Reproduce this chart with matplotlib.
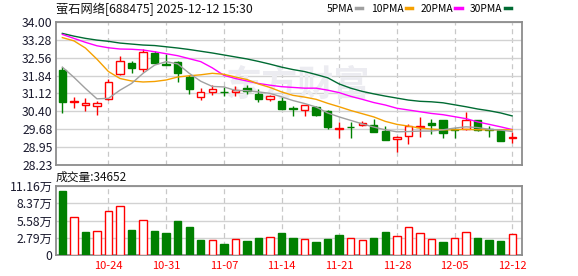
import matplotlib
matplotlib.use('Agg')
import matplotlib.pyplot as plt
from matplotlib.lines import Line2D

plt.rcParams['font.family'] = ['Noto Sans CJK SC', 'DejaVu Sans']
plt.rcParams['axes.unicode_minus'] = False

# K线数据 (2025-10-20 ~ 2025-12-12)
opens = [32.06, 30.79, 30.65, 30.61, 30.89, 31.89, 32.34, 32.09, 32.76, 32.32,
         32.39, 31.78, 30.97, 31.17, 31.19, 31.18, 31.34, 31.10, 30.91, 30.80,
         30.54, 30.46, 30.57, 30.41, 29.70, 29.78, 29.85, 29.85, 29.62, 29.29,
         29.39, 29.77, 29.94, 30.06, 29.67, 29.67, 30.06, 29.70, 29.66, 29.33]
closes = [30.76, 30.80, 30.74, 30.73, 31.57, 32.41, 32.16, 32.78, 32.36, 32.28,
          31.96, 31.29, 31.18, 31.30, 31.18, 31.27, 31.22, 30.91, 31.01, 30.50,
          30.49, 30.64, 30.23, 29.78, 29.71, 29.77, 29.94, 29.58, 29.23, 29.34,
          29.79, 29.80, 29.83, 29.51, 29.66, 30.06, 29.66, 29.65, 29.19, 29.34]
highs = [32.17, 30.97, 30.94, 30.80, 31.70, 32.62, 32.42, 32.93, 32.83, 32.70,
         32.44, 31.85, 31.33, 31.45, 31.37, 31.42, 31.46, 31.30, 31.04, 30.97,
         30.63, 30.64, 30.62, 30.44, 29.97, 29.96, 30.02, 30.08, 29.82, 29.39,
         29.89, 30.18, 30.07, 30.06, 29.71, 30.38, 30.06, 29.82, 29.70, 29.58]
lows = [30.32, 30.53, 30.40, 30.23, 30.84, 31.85, 31.96, 32.00, 32.33, 32.28,
        31.57, 31.08, 30.84, 31.06, 31.00, 31.03, 31.10, 30.76, 30.82, 30.49,
        30.20, 30.19, 30.19, 29.70, 29.31, 29.31, 29.79, 29.55, 29.23, 28.75,
        29.07, 29.37, 29.47, 29.31, 29.31, 29.66, 29.61, 29.37, 29.19, 29.11]

ma5 = [32.18, 31.77, 31.32, 30.90, 30.92, 31.25, 31.52, 31.93, 32.26, 32.40,
       32.31, 31.93, 31.61, 31.40, 31.38, 31.24, 31.23, 31.18, 31.12, 30.98,
       30.83, 30.71, 30.57, 30.33, 30.17, 30.03, 29.89, 29.76, 29.65, 29.57,
       29.58, 29.60, 29.60, 29.65, 29.72, 29.77, 29.74, 29.67, 29.64, 29.58]
ma10 = [33.37, 33.24, 32.95, 32.50, 32.00, 31.72, 31.62, 31.58, 31.60, 31.66,
        31.78, 31.83, 31.87, 31.93, 31.89, 31.78, 31.68, 31.50, 31.36, 31.18,
        31.04, 30.97, 30.88, 30.72, 30.58, 30.43, 30.30, 30.17, 29.99, 29.87,
        29.80, 29.72, 29.68, 29.65, 29.65, 29.67, 29.65, 29.65, 29.65, 29.65]
ma20 = [33.50, 33.34, 33.18, 33.04, 32.96, 32.91, 32.90, 32.87, 32.80, 32.72,
        32.64, 32.52, 32.40, 32.15, 31.85, 31.72, 31.62, 31.52, 31.45, 31.39,
        31.36, 31.33, 31.33, 31.25, 31.15, 31.00, 30.88, 30.75, 30.65, 30.52,
        30.45, 30.38, 30.31, 30.26, 30.18, 30.10, 29.97, 29.87, 29.77, 29.66]
ma30 = [33.54, 33.43, 33.34, 33.27, 33.22, 33.15, 33.11, 33.07, 33.05, 33.00,
        32.95, 32.89, 32.82, 32.75, 32.67, 32.59, 32.51, 32.41, 32.30, 32.18,
        32.08, 32.00, 31.88, 31.75, 31.50, 31.33, 31.20, 31.10, 31.01, 30.93,
        30.85, 30.80, 30.78, 30.74, 30.66, 30.58, 30.49, 30.42, 30.33, 30.21]

# 成交量 (万)
volume = [10.40, 6.09, 3.72, 3.88, 7.12, 7.92, 4.10, 5.66, 3.94, 3.56,
          5.55, 4.53, 2.48, 2.43, 1.83, 2.59, 2.32, 2.80, 2.91, 3.61,
          2.80, 2.59, 2.16, 2.62, 3.23, 2.72, 2.40, 2.75, 3.72, 3.07,
          4.47, 3.50, 2.56, 2.10, 2.72, 3.67, 2.75, 2.48, 2.32, 3.47]
vol_up = [0, 1, 0, 1, 1, 1, 0, 1, 0, 0, 0, 0, 0, 1, 0, 1, 0, 0, 1, 0,
          0, 1, 0, 0, 0, 1, 1, 0, 0, 1, 1, 1, 1, 0, 1, 1, 0, 0, 0, 1]

date_idx = [4, 9, 14, 19, 24, 29, 34, 39]
date_labels = ['10-24', '10-31', '11-07', '11-14', '11-21', '11-28', '12-05', '12-12']
price_ticks = [28.23, 28.95, 29.68, 30.40, 31.12, 31.84, 32.56, 33.28, 34.00]
vol_ticks = [0, 2.79, 5.58, 8.37, 11.16]
vol_tick_labels = ['0', '2.79万', '5.58万', '8.37万', '11.16万']

RED = '#ff0000'
GREEN = '#008000'
FRAME = '#8c8c8c'
GRID = '#d2d2d2'

W, H = 578, 276
fig = plt.figure(figsize=(W / 100, H / 100), dpi=100)
ax = fig.add_axes([56 / W, 1 - 165 / H, 466 / W, 143 / H])
axv = fig.add_axes([56 / W, 1 - 255 / H, 466 / W, 69 / H])

n = len(closes)
x = list(range(n))
bw = 0.64

for a in (ax, axv):
    a.set_xlim(-0.55, n - 0.15)
    for s in a.spines.values():
        s.set_color(FRAME)
        s.set_linewidth(1.3)
    a.tick_params(length=0, labelsize=8.8, colors='#1a1a2e', pad=2.5)
    for i in date_idx:
        a.axvline(i, color='#c8c8c8', lw=0.9, ls=(0, (4, 3)), zorder=0)

# 价格区
ax.set_ylim(28.23, 34.00)
ax.set_yticks(price_ticks)
ax.set_yticklabels(['%.2f' % t for t in price_ticks])
ax.set_xticks([])
for t in price_ticks:
    ax.axhline(t, color=GRID, lw=1.0, zorder=0)

ax.text(0.52, 0.56, '东方财富', transform=ax.transAxes, fontsize=26, fontweight='bold',
        color='#ececf1', ha='center', va='center', zorder=0.5, style='italic')

for i in x:
    o, c, hi, lo = opens[i], closes[i], highs[i], lows[i]
    up = c >= o
    col = RED if up else GREEN
    ax.vlines(i, lo, hi, color=col, lw=1.0, zorder=2)
    bottom = min(o, c)
    height = max(abs(c - o), 0.012)
    ax.bar(i, height, bottom=bottom, width=bw, color='white' if up else GREEN,
           edgecolor=col, linewidth=1.0, zorder=3)

ax.plot(x, ma30, color='#006b33', lw=1.0, zorder=4)
ax.plot(x, ma20, color='#ff00ff', lw=1.0, zorder=4)
ax.plot(x, ma10, color='#f5a000', lw=1.0, zorder=4)
ax.plot(x, ma5, color='#a0a0a0', lw=1.0, zorder=4)

# 成交量区
axv.set_ylim(0, 11.16)
axv.set_yticks(vol_ticks)
axv.set_yticklabels(vol_tick_labels)
for t in vol_ticks:
    axv.axhline(t, color=GRID, lw=1.0, zorder=0)
axv.set_xticks(date_idx)
axv.set_xticklabels(date_labels, color=RED, fontsize=8)
axv.tick_params(axis='x', pad=4, colors=RED)
for i in x:
    up = vol_up[i] == 1
    axv.bar(i, volume[i], width=bw, color='white' if up else GREEN,
            edgecolor=RED if up else GREEN, linewidth=1.0, zorder=3)

fig.text(56 / W, 1 - 9 / H, '萤石网络[688475] 2025-12-12 15:30', fontsize=8.8,
         ha='left', va='center', color='#111111')
fig.text(56 / W, 1 - 177 / H, '成交量:34652', fontsize=8.5,
         ha='left', va='center', color='#111111')

handles = [Line2D([], [], color=cl, lw=2.5) for cl in ('#a0a0a0', '#f5a000', '#ff00ff', '#006b33')]
fig.legend(handles, ['5PMA', '10PMA', '20PMA', '30PMA'], loc='center right',
           bbox_to_anchor=(511 / W, 1 - 9 / H), ncol=4, frameon=False, markerfirst=False,
           handlelength=0.6, handletextpad=0.25, columnspacing=0.8, fontsize=7.4,
           borderpad=0, borderaxespad=0)

fig.savefig('out.png', dpi=100, facecolor='white')
